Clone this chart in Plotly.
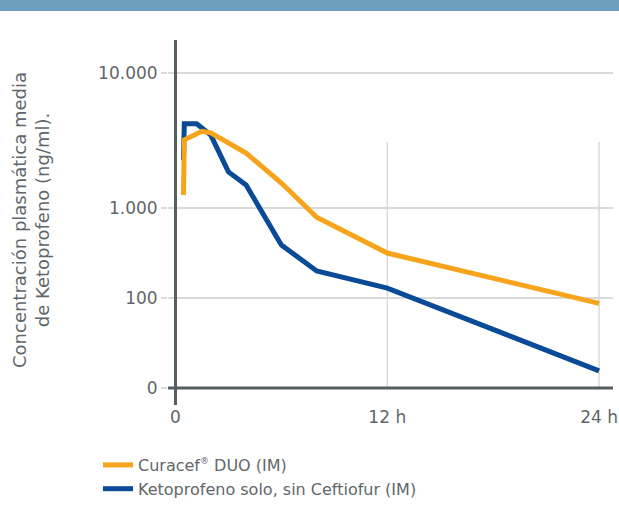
import numpy as np
import plotly.graph_objects as go

# ---- data ----
hours_curacef = [0.45, 0.5, 1.5, 2, 4, 6, 8, 12, 24]
conc_curacef = [1250, 3200, 3700, 3600, 2550, 1530, 790, 316, 94]

hours_keto = [0.45, 0.5, 1.2, 2, 3, 4, 6, 8, 12, 24]
conc_keto = [2270, 4200, 4200, 3470, 1850, 1480, 388, 200, 129, 19]

y_tick_values = [0, 100, 1000, 10000]
y_tick_labels = ["0", "100", "1.000", "10.000"]
x_tick_values = [0, 12, 24]
x_tick_labels = ["0", "12 h", "24 h"]

# custom (broken) scale of the original: 0-100 linear, 100-1000 log (1 unit),
# 1000-10000 log (1.5 units)
def scale(v):
    v = np.asarray(v, dtype=float)
    out = np.where(
        v <= 100, v / 100.0,
        np.where(v <= 1000, 1 + np.log10(np.maximum(v, 1) / 100.0),
                 2 + 1.5 * np.log10(np.maximum(v, 1) / 1000.0)))
    return out

ORANGE = "#F7A41D"
BLUE = "#0A4A96"
AXIS = "#555F61"
GRID = "#DADADA"
TXT = "#5F676A"
FONT = "DejaVu Sans"

W, H = 619, 520
ML, MR, MT, MB = 168, 6, 40, 115
PH = H - MT - MB  # plot height in px
PW = W - ML - MR

def py(pix):  # pixel row -> paper y
    return (H - MB - pix) / PH

def px(pix):  # pixel column -> paper x
    return (pix - ML) / PW

fig = go.Figure()
fig.add_trace(go.Scatter(x=hours_keto, y=scale(conc_keto), mode="lines",
                         name="Ketoprofeno solo, sin Ceftiofur (IM)",
                         line=dict(color=BLUE, width=5)))
fig.add_trace(go.Scatter(x=hours_curacef, y=scale(conc_curacef), mode="lines",
                         name="Curacef<sup><span style='font-size:9px'>®</span></sup> DUO (IM)",
                         line=dict(color=ORANGE, width=5)))

shapes = [
    dict(type="rect", xref="paper", yref="paper", x0=px(-5), x1=px(W + 5),
         y0=py(11), y1=py(-5), fillcolor="#6D9FC1", line_width=0, layer="above"),
]
for xv in [12, 24]:
    shapes.append(dict(type="line", xref="x", yref="y", x0=xv, x1=xv,
                       y0=0, y1=(388 - 142) / 90.0,
                       line=dict(color=GRID, width=1.5), layer="below"))
shapes.append(dict(type="line", xref="x", yref="paper", x0=0, x1=0, y0=0, y1=1,
                   line=dict(color=AXIS, width=3)))
shapes.append(dict(type="line", xref="paper", yref="y", x0=0, x1=1, y0=0, y1=0,
                   line=dict(color=AXIS, width=3)))

fig.update_layout(
    template="none",
    width=W, height=H,
    margin=dict(l=ML, r=MR, t=MT, b=MB, autoexpand=False),
    paper_bgcolor="white", plot_bgcolor="white",
    font=dict(family=FONT, color=TXT, size=17),
    showlegend=True,
    legend=dict(traceorder="reversed", x=px(98), y=py(448),
                xanchor="left", yanchor="top",
                font=dict(size=16, color=TXT, family=FONT), tracegroupgap=0,
                bgcolor="rgba(0,0,0,0)"),
    shapes=shapes,
    annotations=[dict(
        text="Concentración plasmática media<br>de Ketoprofeno (ng/ml).",
        xref="paper", yref="paper", x=px(31), y=py(220),
        xanchor="center", yanchor="middle", textangle=-90, showarrow=False,
        font=dict(size=18, color=TXT, family=FONT))],
)
fig.update_xaxes(range=[-0.425, 24.79], tickvals=x_tick_values,
                 ticktext=x_tick_labels, showgrid=False, zeroline=False,
                 showline=False, ticks="", automargin=False,
                 tickfont=dict(size=17, color=TXT, family=FONT))
fig.update_yaxes(range=[(388 - (H - MB)) / 90.0, (388 - MT) / 90.0],
                 tickvals=list(scale(y_tick_values)),
                 ticktext=y_tick_labels, showgrid=True, gridcolor=GRID, gridwidth=1.5,
                 zeroline=False, showline=False, ticks="outside", ticklen=6,
                 tickcolor=GRID, tickwidth=1.5, automargin=False,
                 tickfont=dict(size=17, color=TXT, family=FONT))

fig.write_html("out.html", config={"displayModeBar": False},
               post_script="document.body.style.margin='0';document.body.style.padding='0';")
